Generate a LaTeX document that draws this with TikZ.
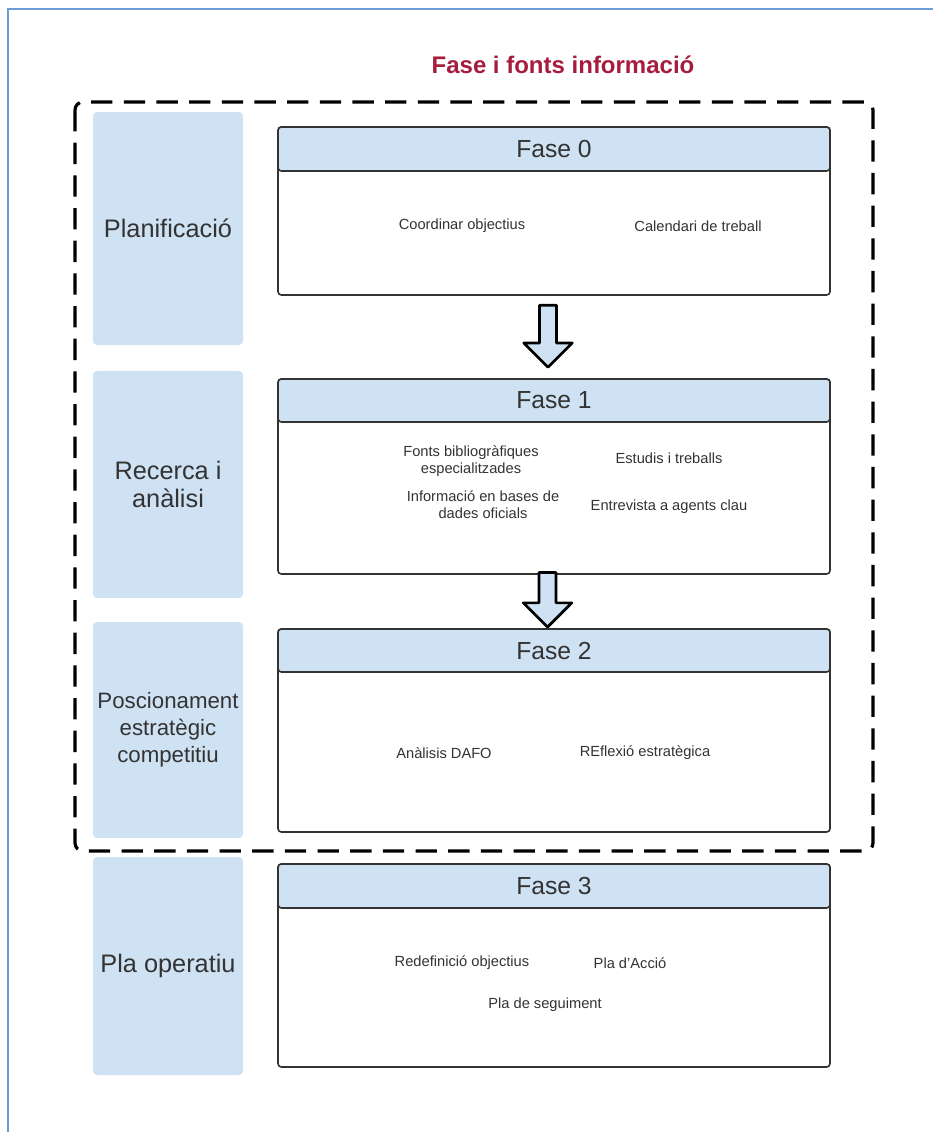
\documentclass[tikz,border=0pt]{standalone}
\usepackage{fontspec}
\setmainfont{Liberation Sans}
\usetikzlibrary{shapes.arrows}
\definecolor{lightblue}{HTML}{CFE2F3}
\definecolor{frameblue}{HTML}{6D9BD8}
\definecolor{titlered}{HTML}{A61C3C}
\definecolor{textgrey}{HTML}{333333}
\begin{document}
\begin{tikzpicture}[x=0.75pt,y=-0.75pt]
\tikzstyle{every node}+=[inner sep=0pt, text=textgrey]
\tikzstyle{stage}=[fill=lightblue, rounded corners=3pt, minimum width=112.5pt, align=center, font=\fontsize{19}{21.5}\selectfont]
\tikzstyle{phase}=[draw=textgrey, line width=1.2pt, fill=white, rounded corners=2.5pt, minimum width=414pt]
\tikzstyle{header}=[draw=textgrey, line width=1.2pt, fill=lightblue, rounded corners=2.5pt, minimum width=414pt, minimum height=33pt, font=\fontsize{18.5}{22}\selectfont]
\tikzstyle{item}=[align=center, font=\fontsize{11}{12.75}\selectfont]
\tikzstyle{downarrow}=[single arrow, draw=black, line width=2pt, line join=round, fill=lightblue, shape border rotate=270, inner sep=5.4pt, single arrow head extend=11.8pt]
\useasboundingbox (0,0) rectangle (933,1132);
\draw [frameblue, line width=1.5pt] (8,1132) -- (8,9) -- (933,9);
\node [font=\bfseries\fontsize{18}{22}\selectfont, text=titlered] (title) at (563,65) {Fase i fonts informació};
\draw [black, line width=2.4pt, dash pattern=on 16pt off 8.5pt, rounded corners=6pt] (75,102) rectangle (873,851);
% left column
\node [stage, minimum height=174.75pt] (s0) at (168,228.5) {Planificació};
\node [stage, minimum height=170.25pt] (s1) at (168,484.5) {Recerca i\\anàlisi};
\node [stage, minimum height=162pt, font=\fontsize{16.7}{20.25}\selectfont] (s2) at (168,730) {Poscionament\\estratègic\\competitiu};
\node [stage, minimum height=163.5pt] (s3) at (168,966) {Pla operatiu};
% fase 0
\node [phase, minimum height=126pt] (f0) at (554,211) {};
\node [header] (h0) at (554,149) {Fase 0};
\node [item] (coord) at (462,226) {Coordinar objectius};
\node [item] (cal) at (698,226) {Calendari de treball};
% fase 1
\node [phase, minimum height=146.25pt] (f1) at (554,476.5) {};
\node [header, minimum height=32.25pt] (h1) at (554,400.5) {Fase 1};
\node [item] (fonts) at (471,461) {Fonts bibliogràfiques\\especialitzades};
\node [item] (estudis) at (669,458) {Estudis i treballs};
\node [item] (bases) at (483,505) {Informació en bases de\\dades oficials};
\node [item] (entrev) at (669,507) {Entrevista a agents clau};
% fase 2
\node [phase, minimum height=152.25pt] (f2) at (554,730.5) {};
\node [header, minimum height=32.25pt] (h2) at (554,650.5) {Fase 2};
\node [item] (dafo) at (444,753) {Anàlisis DAFO};
\node [item] (reflex) at (645,753) {REflexió estratègica};
% fase 3
\node [phase, minimum height=152.25pt] (f3) at (554,965.5) {};
\node [header] (h3) at (554,886) {Fase 3};
\node [item] (redef) at (462,963) {Redefinició objectius};
\node [item] (accio) at (630,963) {Pla d'Acció};
\node [item] (segui) at (545,1005) {Pla de seguiment};
% arrows
\node [downarrow, minimum height=46.5pt] (a01) at (548,332) {};
\node [downarrow, minimum height=41pt] (a12) at (547.5,595.5) {};
\end{tikzpicture}
\end{document}
